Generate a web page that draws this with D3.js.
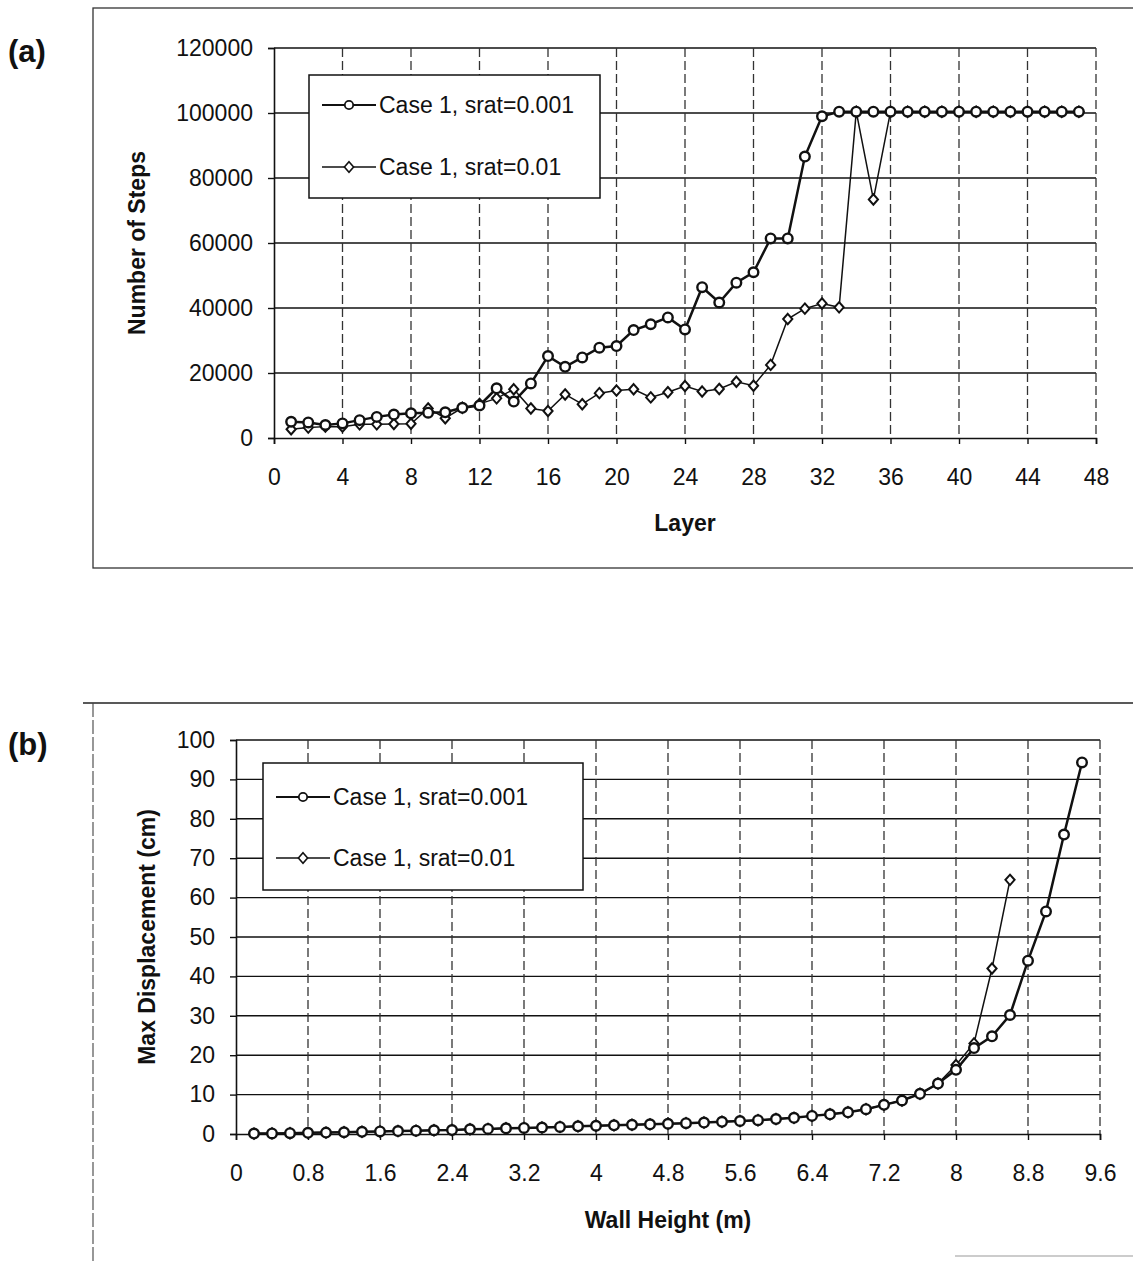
<!DOCTYPE html>
<html>
<head>
<meta charset="utf-8">
<script src="https://cdn.jsdelivr.net/npm/d3@7"></script>
<style>
  body { margin: 0; background: #fff; }
  text { font-family: "Liberation Sans", Arial, sans-serif; fill: #111; }
</style>
</head>
<body>
<svg id="fig" width="1133" height="1262"></svg>
<script>
// ---- panel (a) data: number of steps per layer
var layers = [1,2,3,4,5,6,7,8,9,10,11,12,13,14,15,16,17,18,19,20,21,22,23,24,
  25,26,27,28,29,30,31,32,33,34,35,36,37,38,39,40,41,42,43,44,45,46,47]
var stepsSrat001 = [5000,4800,4000,4500,5500,6500,7200,7600,7800,7900,9300,10000,
  15300,11200,16800,25200,21900,24800,27800,28300,33200,35000,37100,33400,46400,
  41700,47800,51000,61400,61400,86600,99000,100400,100400,100400,100400,100400,
  100400,100400,100400,100400,100400,100400,100400,100400,100400,100400]
var stepsSrat01 = [2700,3200,3500,3500,4200,4200,4300,4400,9100,6100,9300,10500,
  12200,15000,9100,8300,13400,10400,13800,14600,15000,12500,14100,16000,14300,
  15100,17300,16100,22500,36600,39800,41400,40200,100400,73400,100400,100400,
  100400,100400,100400,100400,100400,100400,100400,100400,100400,100400]
var layerTicks = [0,4,8,12,16,20,24,28,32,36,40,44,48]
var stepTicks = [0,20000,40000,60000,80000,100000,120000]

// ---- panel (b) data: max displacement vs wall height
var wallHeight = [0.2,0.4,0.6,0.8,1.0,1.2,1.4,1.6,1.8,2.0,2.2,2.4,2.6,2.8,3.0,3.2,
  3.4,3.6,3.8,4.0,4.2,4.4,4.6,4.8,5.0,5.2,5.4,5.6,5.8,6.0,6.2,6.4,6.6,6.8,7.0,7.2,
  7.4,7.6,7.8,8.0,8.2,8.4,8.6,8.8,9.0,9.2,9.4]
var dispSrat001 = [0.1,0.15,0.2,0.3,0.35,0.45,0.55,0.65,0.75,0.85,0.95,1.0,1.2,1.3,
  1.45,1.55,1.65,1.8,1.95,2.1,2.2,2.35,2.45,2.6,2.75,2.9,3.1,3.3,3.5,3.8,4.1,4.6,
  5.0,5.5,6.3,7.4,8.5,10.2,12.8,16.3,21.8,24.8,30.2,44.0,56.5,76.0,94.3]
var dispSrat01 = [0.1,0.15,0.2,0.3,0.35,0.45,0.55,0.65,0.75,0.85,0.95,1.0,1.2,1.3,
  1.45,1.55,1.65,1.8,1.95,2.1,2.2,2.35,2.45,2.6,2.75,2.9,3.1,3.3,3.5,3.8,4.1,4.6,
  5.0,5.5,6.3,7.4,8.5,10.2,12.8,17.5,23.0,42.0,64.5]
var heightTicks = [0,0.8,1.6,2.4,3.2,4,4.8,5.6,6.4,7.2,8,8.8,9.6]
var dispTicks = [0,10,20,30,40,50,60,70,80,90,100]

var seriesNames = ["Case 1, srat=0.001", "Case 1, srat=0.01"]

var svg = d3.select("#fig")

// outer frames of the two figures
svg.append("rect")
  .attr("x", 93).attr("y", 8).attr("width", 1070).attr("height", 560)
  .attr("fill", "none").attr("stroke", "#333").attr("stroke-width", 1.3)
svg.append("line")
  .attr("x1", 83).attr("x2", 1133).attr("y1", 703).attr("y2", 703)
  .attr("stroke", "#222").attr("stroke-width", 1.6)
svg.append("line")
  .attr("x1", 93).attr("x2", 93).attr("y1", 703).attr("y2", 1262)
  .attr("stroke", "#444").attr("stroke-width", 1.1).attr("stroke-dasharray", "14,3")
svg.append("line")
  .attr("x1", 955).attr("x2", 1133).attr("y1", 1256).attr("y2", 1256)
  .attr("stroke", "#999").attr("stroke-width", 1)

var diamond = "M0,-5.2L4.6,0L0,5.2L-4.6,0Z"

function drawPanel(p) {
  var x = d3.scaleLinear().domain(p.xDomain).range([p.left, p.right])
  var y = d3.scaleLinear().domain(p.yDomain).range([p.bottom, p.top])
  var g = svg.append("g")

  // horizontal grid (solid)
  g.selectAll(".hgrid").data(p.yTicks.slice(1)).enter()
    .append("line")
    .attr("x1", p.left).attr("x2", p.right)
    .attr("y1", d => y(d)).attr("y2", d => y(d))
    .attr("stroke", "#111").attr("stroke-width", 1.4)

  // vertical grid (dashed)
  g.selectAll(".vgrid").data(p.xTicks.slice(1)).enter()
    .append("line")
    .attr("x1", d => x(d)).attr("x2", d => x(d))
    .attr("y1", p.top).attr("y2", p.bottom)
    .attr("stroke", "#333").attr("stroke-width", 1.3)
    .attr("stroke-dasharray", "9,4")

  // axes
  var yAxis = g.append("g")
    .attr("transform", "translate(" + p.left + ",0)")
    .call(d3.axisLeft(y).tickValues(p.yTicks).tickSize(6).tickPadding(15)
      .tickFormat(d => d))
  var xAxis = g.append("g")
    .attr("transform", "translate(0," + p.bottom + ")")
    .call(d3.axisBottom(x).tickValues(p.xTicks).tickSize(6).tickPadding(25)
      .tickFormat(d => d))
  ;[yAxis, xAxis].forEach(function(a) {
    a.select(".domain").attr("stroke", "#111").attr("stroke-width", 1.6)
    a.selectAll(".tick line").attr("stroke", "#111").attr("stroke-width", 1.4)
    a.selectAll("text").style("font-size", "23px").attr("fill", "#111")
  })

  // axis titles
  g.append("text")
    .attr("x", (p.left + p.right) / 2).attr("y", p.bottom + p.xTitleDy)
    .attr("text-anchor", "middle")
    .style("font-size", "23px").style("font-weight", "bold")
    .text(p.xTitle)
  g.append("text")
    .attr("transform", "translate(" + p.yTitleX + "," + (p.top + p.bottom) / 2 + ") rotate(-90)")
    .attr("text-anchor", "middle")
    .style("font-size", "23px").style("font-weight", "bold")
    .text(p.yTitle)

  // panel letter
  g.append("text")
    .attr("x", 8).attr("y", p.letterY)
    .style("font-size", "31px").style("font-weight", "bold")
    .text(p.letter)

  // series: thin diamond series first, thick circle series on top
  var line = d3.line().x(d => x(d[0])).y(d => y(d[1]))
  var s2 = p.x2.map((v, i) => [v, p.y2[i]])
  var s1 = p.x1.map((v, i) => [v, p.y1[i]])

  g.append("path").datum(s2).attr("d", line)
    .attr("fill", "none").attr("stroke", "#111").attr("stroke-width", 1.5)
  g.selectAll(".m2").data(s2).enter().append("path")
    .attr("d", diamond)
    .attr("transform", d => "translate(" + x(d[0]) + "," + y(d[1]) + ")")
    .attr("fill", "#fff").attr("stroke", "#111").attr("stroke-width", 2)

  g.append("path").datum(s1).attr("d", line)
    .attr("fill", "none").attr("stroke", "#111").attr("stroke-width", 2.5)
  g.selectAll(".m1").data(s1).enter().append("circle")
    .attr("cx", d => x(d[0])).attr("cy", d => y(d[1])).attr("r", 4.8)
    .attr("fill", "#fff").attr("stroke", "#111").attr("stroke-width", 2.4)

  // legend
  var lg = g.append("g")
  lg.append("rect")
    .attr("x", p.legend.x).attr("y", p.legend.y)
    .attr("width", p.legend.w).attr("height", p.legend.h)
    .attr("fill", "#fff").attr("stroke", "#111").attr("stroke-width", 1.5)
  seriesNames.forEach(function(name, i) {
    var ly = p.legend.y + p.legend.rows[i]
    var lx = p.legend.x + 13
    lg.append("line")
      .attr("x1", lx).attr("x2", lx + 54).attr("y1", ly).attr("y2", ly)
      .attr("stroke", "#111").attr("stroke-width", i == 0 ? 2 : 1.4)
    if (i == 0) {
      lg.append("circle").attr("cx", lx + 27).attr("cy", ly).attr("r", 4.2)
        .attr("fill", "#fff").attr("stroke", "#111").attr("stroke-width", 1.8)
    } else {
      lg.append("path").attr("d", diamond)
        .attr("transform", "translate(" + (lx + 27) + "," + ly + ")")
        .attr("fill", "#fff").attr("stroke", "#111").attr("stroke-width", 1.6)
    }
    lg.append("text")
      .attr("x", lx + 57).attr("y", ly + 8)
      .style("font-size", "23px")
      .text(name)
  })
}

drawPanel({
  left: 274, right: 1096, top: 48, bottom: 438,
  xDomain: [0, 48], yDomain: [0, 120000],
  xTicks: layerTicks, yTicks: stepTicks,
  x1: layers, y1: stepsSrat001,
  x2: layers, y2: stepsSrat01,
  xTitle: "Layer", yTitle: "Number of Steps",
  xTitleDy: 93, yTitleX: 145,
  letter: "(a)", letterY: 62,
  legend: { x: 309, y: 75, w: 291, h: 123, rows: [30, 92] }
})

drawPanel({
  left: 236, right: 1100, top: 740, bottom: 1134,
  xDomain: [0, 9.6], yDomain: [0, 100],
  xTicks: heightTicks, yTicks: dispTicks,
  x1: wallHeight, y1: dispSrat001,
  x2: wallHeight.slice(0, dispSrat01.length), y2: dispSrat01,
  xTitle: "Wall Height (m)", yTitle: "Max Displacement (cm)",
  xTitleDy: 94, yTitleX: 155,
  letter: "(b)", letterY: 755,
  legend: { x: 263, y: 763, w: 320, h: 127, rows: [34, 95] }
})
</script>
</body>
</html>
